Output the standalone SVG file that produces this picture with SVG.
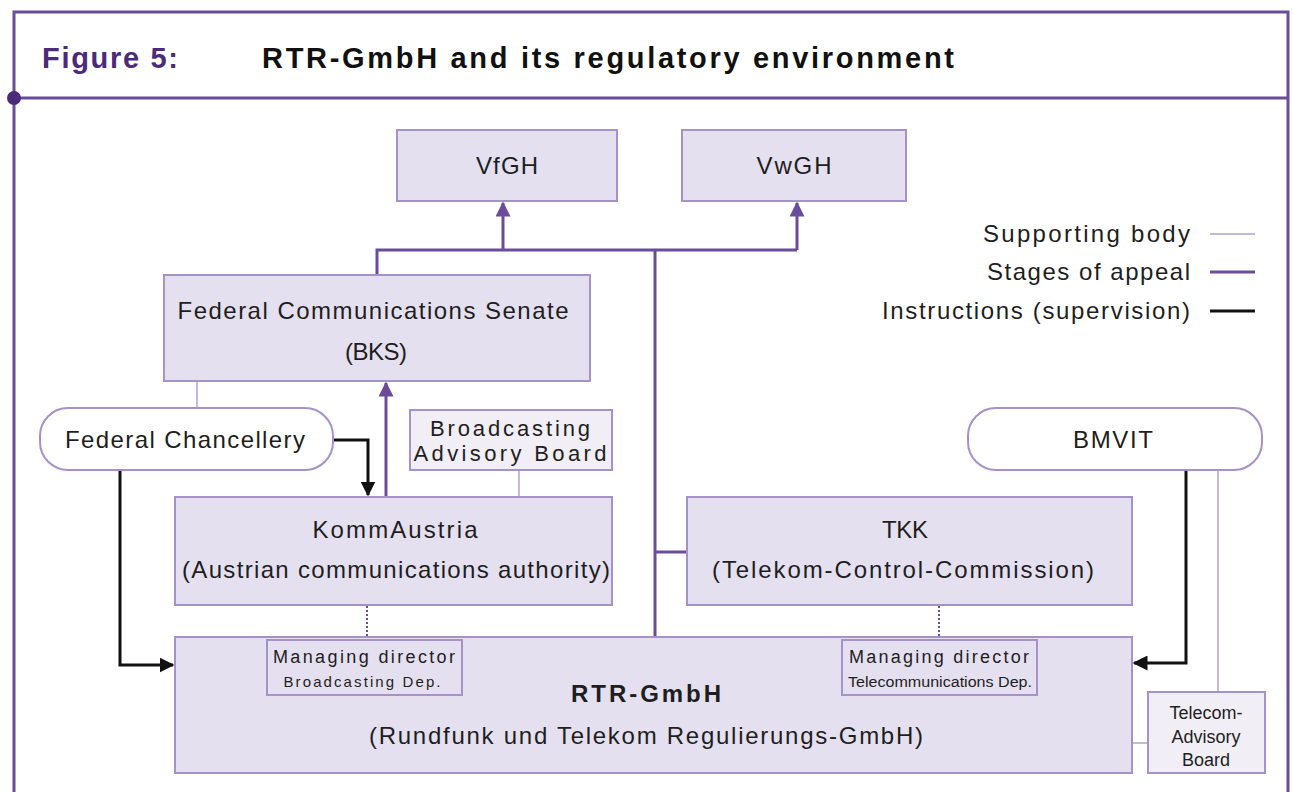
<svg xmlns="http://www.w3.org/2000/svg" width="1292" height="792" viewBox="0 0 1292 792">
<defs>
<marker id="ap" viewBox="0 0 10 10" refX="9" refY="5" markerWidth="15" markerHeight="15" markerUnits="userSpaceOnUse" orient="auto"><path d="M0,0 L10,5 L0,10 z" fill="#6b4c9a"/></marker>
<marker id="ab" viewBox="0 0 10 10" refX="9" refY="5" markerWidth="15" markerHeight="15" markerUnits="userSpaceOnUse" orient="auto"><path d="M0,0 L10,5 L0,10 z" fill="#111"/></marker>
<style>
.frame{fill:none;stroke:#6b4c9a;stroke-width:3}
.box{fill:#e5e0ef;stroke:#a592c8;stroke-width:2}
.pill{fill:#fff;stroke:#a592c8;stroke-width:2}
.light{fill:#f1eef6;stroke:#a592c8;stroke-width:2}
.t{font-family:"Liberation Sans",Arial,sans-serif;font-size:24px;fill:#1e1e1e;text-anchor:middle}
.s{font-family:"Liberation Sans",Arial,sans-serif;fill:#1e1e1e;text-anchor:middle}
.lg{font-family:"Liberation Sans",Arial,sans-serif;font-size:24px;fill:#1e1e1e;text-anchor:end}
.appeal{fill:none;stroke:#6b4c9a;stroke-width:3}
.instr{fill:none;stroke:#111;stroke-width:3}
.supp{fill:none;stroke:#c4b8dd;stroke-width:2}
.dot{fill:none;stroke:#6b4c9a;stroke-width:2;stroke-dasharray:2 2}
</style>
</defs>
<rect width="1292" height="792" fill="#fff"/>
<g id="frame">
<path class="frame" d="M14,792 V12 H1288 V792"/>
<line class="frame" x1="14" y1="98" x2="1288" y2="98"/>
<circle cx="14" cy="98" r="7" fill="#4b2a7b"/>
<text x="42" y="68" font-family="'Liberation Sans',Arial,sans-serif" font-weight="bold" font-size="29" fill="#4b2a7b" textLength="136" lengthAdjust="spacing">Figure 5:</text>
<text x="262" y="68" font-family="'Liberation Sans',Arial,sans-serif" font-weight="bold" font-size="29" fill="#111" textLength="692" lengthAdjust="spacing">RTR-GmbH and its regulatory environment</text>
</g>
<g id="legend">
<text class="lg" x="1190" y="242" textLength="207" lengthAdjust="spacing">Supporting body</text>
<line class="supp" x1="1210" y1="234" x2="1255" y2="234" stroke-width="3"/>
<text class="lg" x="1190" y="280" textLength="203" lengthAdjust="spacing">Stages of appeal</text>
<line class="appeal" x1="1210" y1="272" x2="1255" y2="272"/>
<text class="lg" x="1190" y="319" textLength="308" lengthAdjust="spacing">Instructions (supervision)</text>
<line class="instr" x1="1210" y1="311" x2="1255" y2="311"/>
</g>
<g id="connectors">
<path class="appeal" d="M377,275 V250 H797"/>
<path class="appeal" d="M503,250 V203" marker-end="url(#ap)"/>
<path class="appeal" d="M797,250 V203" marker-end="url(#ap)"/>
<path class="appeal" d="M655,250 V637"/>
<path class="appeal" d="M655,552 H687"/>
<path class="appeal" d="M386,497 V383" marker-end="url(#ap)"/>
<path class="instr" d="M333,440 H368 V495" marker-end="url(#ab)"/>
<path class="instr" d="M120,470 V665 H173" marker-end="url(#ab)"/>
<path class="instr" d="M1186,470 V663 H1134" marker-end="url(#ab)"/>
<path class="supp" d="M197,381 V408"/>
<path class="supp" d="M519,470 V497"/>
<path class="supp" d="M1218,470 V692"/>
<path class="supp" d="M1132,743 H1148"/>
<path class="dot" d="M367,606 V637"/>
<path class="dot" d="M939,606 V637"/>
</g>
<g id="vfgh">
<rect class="box" x="397" y="130" width="220" height="71"/>
<text class="t" x="507" y="174" textLength="62" lengthAdjust="spacing">VfGH</text>
</g>
<g id="vwgh">
<rect class="box" x="682" y="130" width="224" height="71"/>
<text class="t" x="794" y="174" textLength="75" lengthAdjust="spacing">VwGH</text>
</g>
<g id="bks">
<rect class="box" x="164" y="275" width="426" height="106"/>
<text class="t" x="373" y="319" textLength="391" lengthAdjust="spacing">Federal Communications Senate</text>
<text class="t" x="376" y="360" textLength="62" lengthAdjust="spacing">(BKS)</text>
</g>
<g id="chancellery">
<rect class="pill" x="40" y="408" width="293" height="62" rx="28"/>
<text class="t" x="185" y="448" textLength="240" lengthAdjust="spacing">Federal Chancellery</text>
</g>
<g id="bab">
<rect class="light" x="410" y="410" width="202" height="60"/>
<text class="s" x="510" y="436" font-size="22" textLength="160" lengthAdjust="spacing">Broadcasting</text>
<text class="s" x="510" y="461" font-size="22" textLength="193" lengthAdjust="spacing">Advisory Board</text>
</g>
<g id="bmvit">
<rect class="pill" x="968" y="408" width="294" height="62" rx="28"/>
<text class="t" x="1113" y="448" textLength="80" lengthAdjust="spacing">BMVIT</text>
</g>
<g id="kommaustria">
<rect class="box" x="175" y="497" width="437" height="108"/>
<text class="t" x="395" y="538" textLength="165" lengthAdjust="spacing">KommAustria</text>
<text class="t" x="396" y="578" textLength="428" lengthAdjust="spacing">(Austrian communications authority)</text>
</g>
<g id="tkk">
<rect class="box" x="687" y="497" width="445" height="108"/>
<text class="t" x="905" y="538" textLength="46" lengthAdjust="spacing">TKK</text>
<text class="t" x="903" y="578" textLength="382" lengthAdjust="spacing">(Telekom-Control-Commission)</text>
</g>
<g id="rtr">
<rect class="box" x="175" y="637" width="957" height="136"/>
<text class="t" x="646" y="702" font-size="27" font-weight="bold" fill="#111" textLength="150" lengthAdjust="spacing">RTR-GmbH</text>
<text class="t" x="646" y="744" textLength="554" lengthAdjust="spacing">(Rundfunk und Telekom Regulierungs-GmbH)</text>
</g>
<g id="md-broadcasting">
<rect class="box" x="267" y="640" width="195" height="55"/>
<text class="s" x="364" y="663" font-size="18" textLength="182" lengthAdjust="spacing">Managing director</text>
<text class="s" x="362" y="687" font-size="15" textLength="157" lengthAdjust="spacing">Broadcasting Dep.</text>
</g>
<g id="md-telecom">
<rect class="box" x="842" y="640" width="195" height="55"/>
<text class="s" x="939" y="663" font-size="18" textLength="180" lengthAdjust="spacing">Managing director</text>
<text class="s" x="940" y="687" font-size="14" textLength="184" lengthAdjust="spacingAndGlyphs">Telecommunications Dep.</text>
</g>
<g id="tab">
<rect class="light" x="1148" y="692" width="117" height="81"/>
<text class="s" x="1206" y="719" font-size="18">Telecom-</text>
<text class="s" x="1206" y="743" font-size="18">Advisory</text>
<text class="s" x="1206" y="766" font-size="18">Board</text>
</g>
</svg>
